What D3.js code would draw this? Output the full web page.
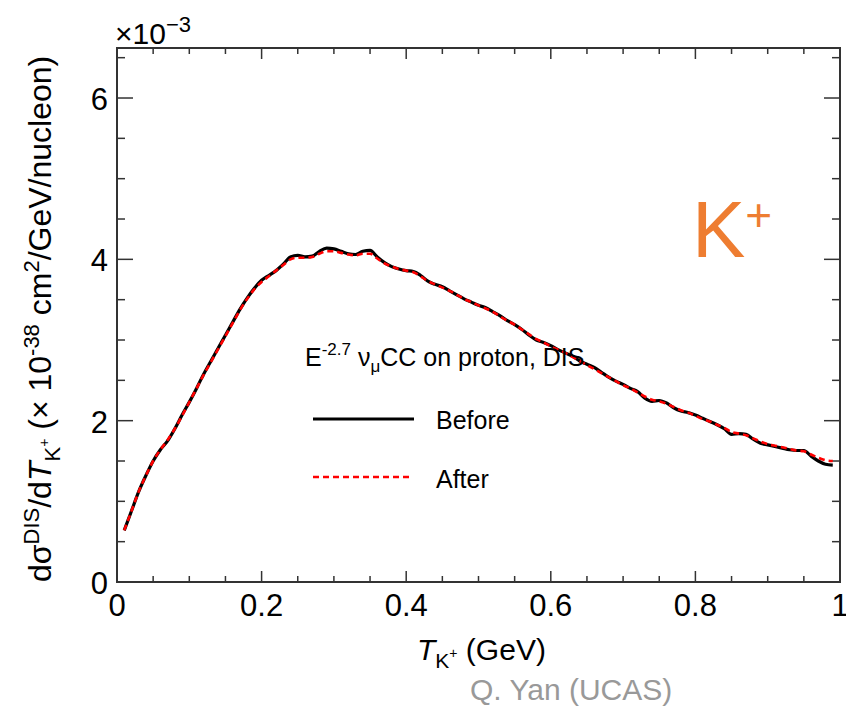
<!DOCTYPE html>
<html>
<head>
<meta charset="utf-8">
<title>K+ DIS</title>
<style>
body { margin: 0; background: #fff; }
svg text { font-family: "Liberation Sans", Arial, sans-serif; }
</style>
</head>
<body>
<div id="chart"></div>
<script src="https://cdn.jsdelivr.net/npm/d3@7"></script>
<script>
// T_K+ (GeV)
var xs = [0.01,0.02,0.03,0.04,0.05,0.06,0.07,0.08,0.09,0.10,
  0.11,0.12,0.13,0.14,0.15,0.16,0.17,0.18,0.19,0.20,
  0.21,0.22,0.23,0.24,0.25,0.26,0.27,0.28,0.29,0.30,
  0.31,0.32,0.33,0.34,0.35,0.36,0.37,0.38,0.39,0.40,
  0.41,0.42,0.43,0.44,0.45,0.46,0.47,0.48,0.49,0.50,
  0.51,0.52,0.53,0.54,0.55,0.56,0.57,0.58,0.59,0.60,
  0.61,0.62,0.63,0.64,0.65,0.66,0.67,0.68,0.69,0.70,
  0.71,0.72,0.73,0.74,0.75,0.76,0.77,0.78,0.79,0.80,
  0.81,0.82,0.83,0.84,0.85,0.86,0.87,0.88,0.89,0.90,
  0.91,0.92,0.93,0.94,0.95,0.96,0.97,0.98,0.99];

// cross section, units of 1e-3 (x 1e-38 cm2/GeV/nucleon)
var before = [0.64,0.88,1.12,1.32,1.50,1.64,1.75,1.90,2.07,2.23,
  2.40,2.58,2.74,2.90,3.06,3.22,3.38,3.52,3.64,3.74,
  3.80,3.86,3.94,4.03,4.05,4.03,4.04,4.10,4.14,4.13,
  4.10,4.07,4.06,4.10,4.11,4.03,3.96,3.91,3.88,3.86,
  3.85,3.80,3.73,3.69,3.66,3.61,3.56,3.51,3.47,3.43,
  3.40,3.35,3.30,3.24,3.19,3.13,3.06,3.00,2.97,2.93,
  2.88,2.84,2.80,2.74,2.70,2.66,2.60,2.54,2.49,2.45,
  2.40,2.36,2.28,2.24,2.25,2.22,2.16,2.12,2.10,2.07,
  2.03,1.99,1.95,1.90,1.83,1.84,1.83,1.77,1.72,1.70,
  1.68,1.66,1.64,1.63,1.63,1.56,1.50,1.46,1.45];

var after = [0.64,0.88,1.12,1.32,1.50,1.64,1.76,1.90,2.06,2.23,
  2.40,2.57,2.73,2.89,3.05,3.21,3.37,3.51,3.63,3.72,
  3.79,3.86,3.93,4.00,4.02,4.02,4.03,4.07,4.10,4.10,
  4.08,4.06,4.05,4.07,4.07,4.01,3.95,3.91,3.88,3.86,
  3.84,3.79,3.73,3.69,3.65,3.61,3.56,3.51,3.47,3.43,
  3.39,3.35,3.29,3.24,3.19,3.13,3.07,3.01,2.97,2.92,
  2.88,2.84,2.79,2.74,2.69,2.64,2.59,2.54,2.49,2.44,
  2.40,2.35,2.30,2.26,2.24,2.21,2.17,2.13,2.10,2.06,
  2.02,1.99,1.95,1.91,1.86,1.84,1.82,1.78,1.74,1.71,
  1.69,1.67,1.65,1.63,1.62,1.58,1.54,1.51,1.50];

var xTicks = [0, 0.2, 0.4, 0.6, 0.8, 1];
var yTicks = [0, 2, 4, 6];

var W = 846, H = 707;
var m = {left: 117, right: 6, top: 48, bottom: 125};

var svg = d3.select('#chart').append('svg')
  .attr('width', W).attr('height', H);

var x = d3.scaleLinear().domain([0, 1]).range([m.left, W - m.right]);
var y = d3.scaleLinear().domain([0, 6.62]).range([H - m.bottom, m.top]);

var x0 = x(0), x1 = x(1), y0 = y(0), y1 = y(6.62);
var frameCol = '#333';

// minor + major ticks on all four sides
var xMinor = d3.range(0, 1.0001, 0.05);
var yMinor = d3.range(0, 6.6, 0.5);
var tg = svg.append('g').attr('stroke', frameCol).attr('stroke-width', 1.5);
xMinor.forEach(function(v, i) {
  var major = i % 4 === 0;
  var L = major ? 11 : 6;
  tg.append('line').attr('x1', x(v)).attr('x2', x(v)).attr('y1', y0).attr('y2', y0 - L);
  tg.append('line').attr('x1', x(v)).attr('x2', x(v)).attr('y1', y1).attr('y2', y1 + L);
});
yMinor.forEach(function(v, i) {
  var major = i % 4 === 0;
  var L = major ? 16 : 8;
  tg.append('line').attr('y1', y(v)).attr('y2', y(v)).attr('x1', x0).attr('x2', x0 + L);
  tg.append('line').attr('y1', y(v)).attr('y2', y(v)).attr('x1', x1).attr('x2', x1 - L);
});

svg.append('rect')
  .attr('x', x0).attr('y', y1).attr('width', x1 - x0).attr('height', y0 - y1)
  .attr('fill', 'none').attr('stroke', frameCol).attr('stroke-width', 2);

// tick labels
svg.selectAll('.xl').data(xTicks).enter().append('text')
  .attr('x', function(d) { return x(d); })
  .attr('y', y0 + 34)
  .attr('text-anchor', 'middle')
  .style('font-size', '31px')
  .text(function(d) { return d3.format('~g')(d); });

svg.selectAll('.yl').data(yTicks).enter().append('text')
  .attr('x', x0 - 9)
  .attr('y', function(d) { return y(d) + 12; })
  .attr('text-anchor', 'end')
  .style('font-size', '31px')
  .text(function(d) { return d; });

// x10^-3
var e3 = svg.append('text').attr('x', x0 - 2).attr('y', 44).style('font-size', '30px');
e3.append('tspan').text('\u00d710');
e3.append('tspan').attr('dy', -12).style('font-size', '22px').text('\u22123');

// curves
var line = d3.line()
  .x(function(d, i) { return x(xs[i]); })
  .y(function(d) { return y(d); })
  .curve(d3.curveMonotoneX);

svg.append('path').attr('d', line(before))
  .attr('fill', 'none').attr('stroke', '#000').attr('stroke-width', 3.2);
svg.append('path').attr('d', line(after))
  .attr('fill', 'none').attr('stroke', '#f00').attr('stroke-width', 2.6)
  .attr('stroke-dasharray', '6,4');

// legend
var lg = svg.append('g');
var hdr = lg.append('text').attr('x', 305).attr('y', 366).style('font-size', '25px');
hdr.append('tspan').text('E');
hdr.append('tspan').attr('dy', -11).style('font-size', '17px').text('-2.7');
hdr.append('tspan').attr('dy', 11).text(' \u03bd');
hdr.append('tspan').attr('dy', 6).style('font-size', '17px').text('\u03bc');
hdr.append('tspan').attr('dy', -6).text('CC on proton, DIS');

lg.append('line').attr('x1', 313).attr('x2', 414).attr('y1', 419).attr('y2', 419)
  .attr('stroke', '#000').attr('stroke-width', 3);
lg.append('text').attr('x', 436).attr('y', 429).style('font-size', '25px').text('Before');
lg.append('line').attr('x1', 313).attr('x2', 410).attr('y1', 477).attr('y2', 477)
  .attr('stroke', '#f00').attr('stroke-width', 2.6).attr('stroke-dasharray', '6,4');
lg.append('text').attr('x', 436).attr('y', 488).style('font-size', '25px').text('After');

// K+ label
var kp = svg.append('text').attr('x', 692).attr('y', 257).attr('fill', '#ee7d31')
  .style('font-size', '80px');
kp.append('tspan').text('K');
kp.append('tspan').attr('dy', -26).style('font-size', '46px').text('+');

// x title
var xt = svg.append('text').attr('x', 417).attr('y', 660).style('font-size', '30px');
xt.append('tspan').style('font-style', 'italic').text('T');
xt.append('tspan').attr('dy', 8).style('font-size', '21px').text('K');
xt.append('tspan').attr('dy', -10).style('font-size', '14px').text('+');
xt.append('tspan').attr('dy', 2).text(' (GeV)');

// y title
var yt = svg.append('text')
  .attr('transform', 'translate(51,' + 582 + ') rotate(-90)')
  .style('font-size', '32px');
yt.append('tspan').text('d\u03c3');
yt.append('tspan').attr('dy', -12).style('font-size', '22px').text('DIS');
yt.append('tspan').attr('dy', 12).text('/d');
yt.append('tspan').style('font-style', 'italic').text('T');
yt.append('tspan').attr('dy', 9).style('font-size', '22px').text('K');
yt.append('tspan').attr('dy', -11).style('font-size', '14px').text('+');
yt.append('tspan').attr('dy', 2).text(' (\u00d7 10');
yt.append('tspan').attr('dy', -12).style('font-size', '22px').text('-38');
yt.append('tspan').attr('dy', 12).text('  cm');
yt.append('tspan').attr('dy', -12).style('font-size', '22px').text('2');
yt.append('tspan').attr('dy', 12).text('/GeV/nucleon)');

// credit
svg.append('text').attr('x', 470).attr('y', 700).attr('fill', '#999')
  .style('font-size', '30px').text('Q. Yan (UCAS)');
</script>
</body>
</html>
